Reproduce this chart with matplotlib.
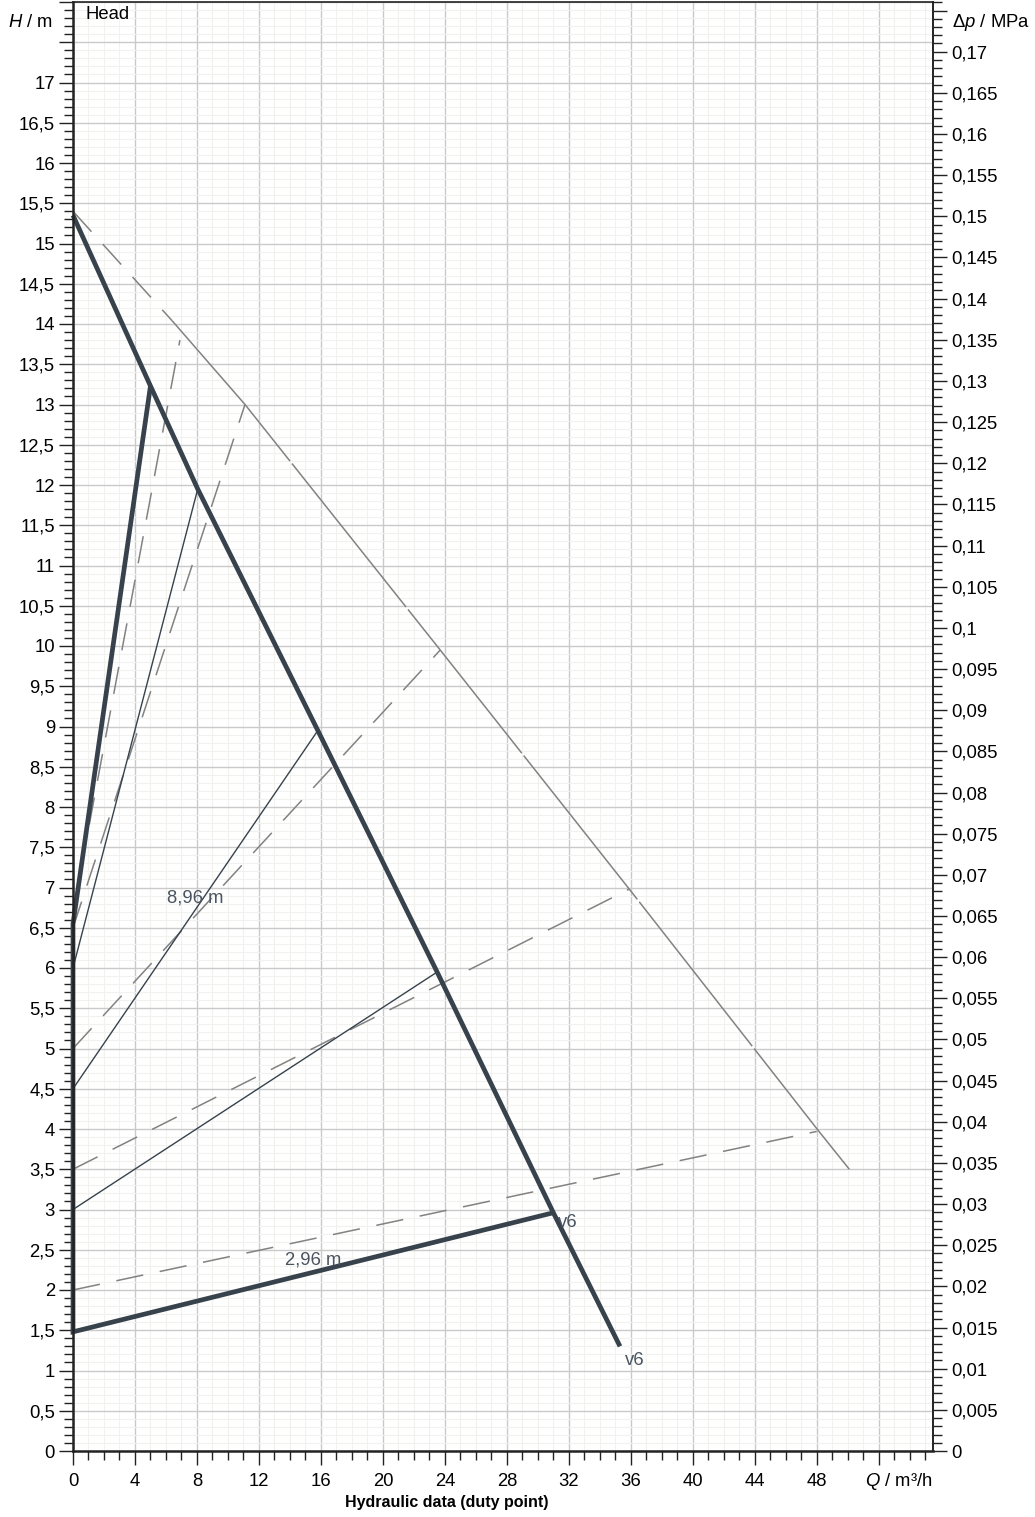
import matplotlib.pyplot as plt
from matplotlib.ticker import MultipleLocator, FuncFormatter

plt.rcParams['font.family'] = ['Liberation Sans', 'DejaVu Sans']
plt.rcParams['mathtext.fontset'] = 'custom'
plt.rcParams['mathtext.rm'] = 'Liberation Sans'
plt.rcParams['mathtext.it'] = 'Liberation Sans:italic'

# === Values ===
# max. speed curve (thin grey)
q_max = [0, 6.4, 11.1, 23.7, 35.9, 48.1, 50.1]
h_max = [15.4, 14.04, 13.0, 9.95, 6.98, 3.98, 3.5]

# pump curve v6 (thick)
q_v6 = [0, 5.0, 8.05, 15.8, 23.5, 31.0, 35.3]
h_v6 = [15.35, 13.23, 11.95, 8.95, 5.95, 2.96, 1.3]

# control curve through the duty point (thick)
q_duty = [31.0, 0, 0, 5.0]
h_duty = [2.96, 1.48, 6.55, 13.23]

# thin control lines: start on H axis, end on v6 curve
ctrl_h0 = [3.0, 4.5, 6.0]
ctrl_q1 = [23.5, 15.8, 8.05]
ctrl_h1 = [5.95, 8.95, 11.95]

# dashed lines: start on H axis, end on max curve
dash_h0 = [2.0, 3.5, 5.0, 6.5, 6.7]
dash_q1 = [48.0, 35.9, 23.7, 11.1, 6.9]
dash_h1 = [3.97, 6.98, 9.95, 13.0, 13.8]

# labels on the plot
lbl_text = ['8,96 m', '2,96 m', 'v6', 'v6']
lbl_q = [7.87, 15.5, 31.3, 35.6]
lbl_h = [6.87, 2.37, 2.84, 1.12]

mpa_per_m = 0.00978

# === Plotting ===
dark = '#37424c'
grey = '#828282'
fs = 13.3
W, H = 1035, 1517
fig = plt.figure(figsize=(W / 100, H / 100), dpi=100)
ax = fig.add_axes([73 / W, 66 / H, 860 / W, 1449 / H])
ax.set_xlim(0, 55.5)
ax.set_ylim(0, 18)

ax.xaxis.set_major_locator(MultipleLocator(4))
ax.xaxis.set_minor_locator(MultipleLocator(1))
ax.yaxis.set_major_locator(MultipleLocator(0.5))
ax.yaxis.set_minor_locator(MultipleLocator(0.1))
ax.xaxis.set_major_formatter(FuncFormatter(lambda v, p: '' if v > 48.01 else f'{v:g}'))
ax.yaxis.set_major_formatter(
    FuncFormatter(lambda v, p: '' if v > 17.01 else f'{round(v, 2):g}'.replace('.', ',')))

ax.set_axisbelow(True)
ax.grid(which='major', color='#cacaca', lw=1.0)
ax.grid(which='minor', color='#f1f1ee', lw=0.8)

ax.tick_params(which='major', direction='out', length=10, width=1, labelsize=fs,
               color='#222222')
ax.tick_params(which='minor', direction='out', length=6.5, width=1, color='#222222')
ax.tick_params(axis='x', which='major', pad=6)
ax.tick_params(axis='y', which='major', pad=3)

for s in ['left', 'bottom']:
    ax.spines[s].set_linewidth(1.8)
for s in ['top', 'right']:
    ax.spines[s].set_linewidth(1.2)
for s in ax.spines.values():
    s.set_color('#222222')

# right axis: differential pressure
ax2 = ax.twinx()
ax2.set_ylim(0, 18 * mpa_per_m)
ax2.yaxis.set_major_locator(MultipleLocator(0.005))
ax2.yaxis.set_minor_locator(MultipleLocator(0.001))
ax2.yaxis.set_major_formatter(
    FuncFormatter(lambda v, p: '' if v > 0.1701 else f'{round(v, 4):g}'.replace('.', ',')))
ax2.tick_params(which='major', direction='out', length=10, width=1, labelsize=fs,
                color='#222222', pad=3)
ax2.tick_params(which='minor', direction='out', length=6.5, width=1, color='#222222')
for s in ['left', 'bottom', 'top']:
    ax2.spines[s].set_visible(False)
ax2.spines['right'].set_linewidth(1.2)
ax2.spines['right'].set_color('#222222')

# dashed grey lines
for h0, q1, h1 in zip(dash_h0, dash_q1, dash_h1):
    ax.plot([0, q1], [h0, h1], color=grey, lw=1.1, dashes=(18, 11), clip_on=False)

# max curve
ax.plot(q_max[:2], h_max[:2], color=grey, lw=1.1, dashes=(18, 11), clip_on=False)
ax.plot(q_max[1:], h_max[1:], color=grey, lw=1.1, dashes=(120, 2), clip_on=False)

# thin control lines
for h0, q1, h1 in zip(ctrl_h0, ctrl_q1, ctrl_h1):
    ax.plot([0, q1], [h0, h1], color=dark, lw=1.0, clip_on=False)

# thick curves
ax.plot(q_v6, h_v6, color=dark, lw=3.4, solid_capstyle='butt', clip_on=False)
ax.plot(q_duty, h_duty, color=dark, lw=3.4, solid_capstyle='butt',
        solid_joinstyle='miter', clip_on=False)

for t, q, h in zip(lbl_text, lbl_q, lbl_h):
    ha = 'left' if t == 'v6' else 'center'
    ax.text(q, h, t, ha=ha, va='center', fontsize=fs, color='#4a5561')

# axis titles
ax.text(0.8, 17.85, 'Head', va='center', fontsize=fs)
ax.annotate('$H$ / m', xy=(0, 17.74), xycoords=('axes fraction', 'data'),
            xytext=(-14.4, 0), textcoords='offset points', ha='right', va='center',
            fontsize=fs)
ax.annotate('Δ$p$ / MPa', xy=(1, 17.74), xycoords=('axes fraction', 'data'),
            xytext=(13.7, 0), textcoords='offset points', ha='left', va='center',
            fontsize=fs)
ax.annotate('$Q$ / m³/h', xy=(1, 0), xycoords='axes fraction',
            xytext=(0, -21.6), textcoords='offset points', ha='right', va='center',
            fontsize=fs)
fig.text(447 / W, 1 - 1503 / H, 'Hydraulic data (duty point)', ha='center', va='center',
         fontsize=11.5, fontweight='bold')

fig.savefig('out.png', dpi=100)
